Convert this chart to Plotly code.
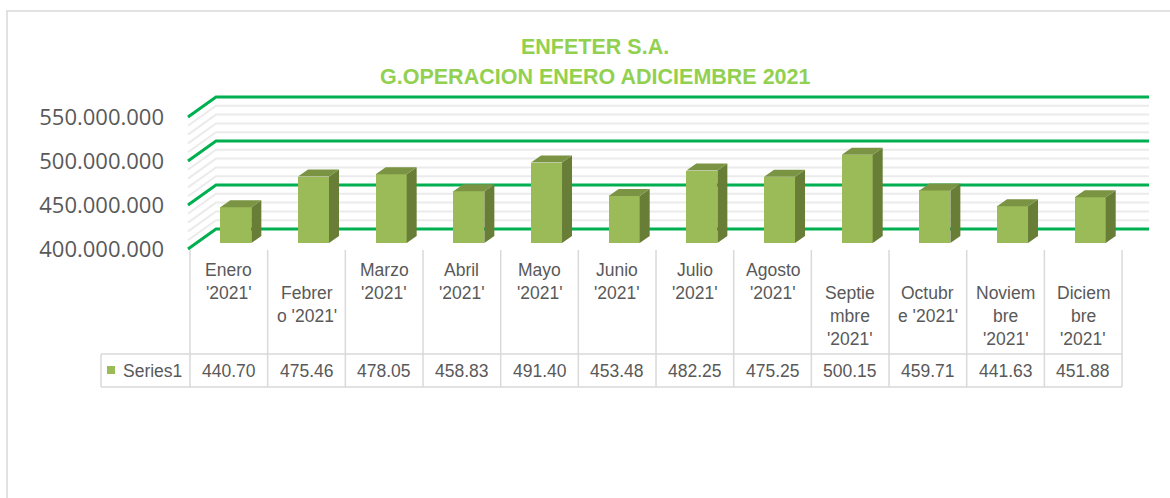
import plotly.graph_objects as go

# ---------------- data ----------------
months = ["Enero '2021'", "Febrero '2021'", "Marzo '2021'", "Abril '2021'",
          "Mayo '2021'", "Junio '2021'", "Julio '2021'", "Agosto '2021'",
          "Septiembre '2021'", "Octubre '2021'", "Noviembre '2021'", "Diciembre '2021'"]
header_labels = ["Enero<br>'2021'", "Febrer<br>o '2021'", "Marzo<br>'2021'", "Abril<br>'2021'",
                 "Mayo<br>'2021'", "Junio<br>'2021'", "Julio<br>'2021'", "Agosto<br>'2021'",
                 "Septie<br>mbre<br>'2021'", "Octubr<br>e '2021'", "Noviem<br>bre<br>'2021'",
                 "Diciem<br>bre<br>'2021'"]
values_millions = [440.70, 475.46, 478.05, 458.83, 491.40, 453.48,
                   482.25, 475.25, 500.15, 459.71, 441.63, 451.88]
series_name = "Series1"
y_ticks = [400e6, 450e6, 500e6, 550e6]
y_minor_step = 10e6
title_lines = ["ENFETER S.A.", "G.OPERACION ENERO ADICIEMBRE 2021"]

# ---------------- layout constants (pixels) ----------------
W, H = 1170, 498
COL0, COLW = 190.0, 77.67          # data-table left edge, column width
PXY = 0.88e-6                      # px per value unit
Y400 = 249.0                       # front-plane pixel row of 400M
WALL_DXP, WALL_DYP = 28.0, 20.0    # wall depth in px
FRONT_LEFT_PX, BACK_RIGHT_PX = 188.0, 1149.0
BAR_OFF_PX, BAR_W_PX, BAR_LIFT_PX = 7.0, 31.0, 6.0
BAR_DXP, BAR_DYP = 10.0, 7.0

FRONT = "#9BBB59"
SIDE = "#687E37"
TOP = "#7A9444"
GREEN_GRID = "#00B050"
MINOR_GRID = "#EBEBEB"
TEXT = "#595959"
BORDER = "#D9D9D9"
TITLE_C = "#92D050"
SANS = "Liberation Sans, Arial"

def xd(px):  # pixel -> x data (category index)
    return (px - COL0) / COLW - 0.5

y_base = 400e6
def yd(py):  # pixel -> y data
    return y_base + (Y400 - py) / PXY

def px2paper(px):
    return px / W

def py2paper(py):
    return 1 - py / H

x_range = [xd(0), xd(W)]
y_range = [yd(H), yd(0)]

wall_dx = WALL_DXP / COLW
wall_dy = WALL_DYP / PXY
xfl = xd(FRONT_LEFT_PX)
xbl = xfl + wall_dx
xbr = xd(BACK_RIGHT_PX)

fig = go.Figure()
shapes = []

# ---------------- walls / gridlines (below traces) ----------------
minor_levels = []
v = y_ticks[0]
while v < y_ticks[-1] - 1:
    if all(abs(v - t) > 1 for t in y_ticks):
        minor_levels.append(v)
    v += y_minor_step

def grid_shape(level, color, width):
    return dict(type="path", xref="x", yref="y", layer="below",
                path=f"M {xfl},{level} L {xbl},{level + wall_dy} L {xbr},{level + wall_dy}",
                line=dict(color=color, width=width))

for lv in minor_levels:
    shapes.append(grid_shape(lv, MINOR_GRID, 2))
for lv in y_ticks:
    shapes.append(grid_shape(lv, GREEN_GRID, 3))

# ---------------- 3D bars ----------------
n = len(values_millions)
bar_off = BAR_OFF_PX / COLW
bar_w = BAR_W_PX / COLW
lift = BAR_LIFT_PX / PXY
bdx = BAR_DXP / COLW
bdy = BAR_DYP / PXY
vals = [v * 1e6 for v in values_millions]
xc = [i + bar_off for i in range(n)]
base = y_base + lift

sx, sy, tx, ty = [], [], [], []
for c, v in zip(xc, vals):
    xl, xr = c - bar_w / 2, c + bar_w / 2
    top = v + lift
    sx += [xr, xr + bdx, xr + bdx, xr, xr, None]
    sy += [base, base + bdy, top + bdy, top, base, None]
    tx += [xl, xl + bdx, xr + bdx, xr, xl, None]
    ty += [top, top + bdy, top + bdy, top, top, None]

fig.add_trace(go.Bar(x=xc, y=[v - y_base for v in vals], base=base, width=bar_w,
                     marker=dict(color=FRONT, line=dict(width=0)), name=series_name,
                     customdata=months, hovertemplate="%{customdata}<extra></extra>",
                     showlegend=False))
fig.add_trace(go.Scatter(x=sx, y=sy, mode="lines", fill="toself", fillcolor=SIDE,
                         line=dict(width=0, color=SIDE), hoverinfo="skip", showlegend=False))
fig.add_trace(go.Scatter(x=tx, y=ty, mode="lines", fill="toself", fillcolor=TOP,
                         line=dict(width=0, color=TOP), hoverinfo="skip", showlegend=False))

# ---------------- data table ----------------
HDR_TOP, ROW_TOP, ROW_BOT = 250, 354, 387
LEG_LEFT = 101
lw = 1.5
for k in range(n + 1):
    xp = COL0 + COLW * k
    shapes.append(dict(type="line", xref="paper", yref="paper",
                       x0=px2paper(xp), x1=px2paper(xp), y0=py2paper(HDR_TOP), y1=py2paper(ROW_BOT),
                       line=dict(color=BORDER, width=lw)))
for yy in (ROW_TOP, ROW_BOT):
    shapes.append(dict(type="line", xref="paper", yref="paper",
                       x0=px2paper(LEG_LEFT), x1=px2paper(COL0 + COLW * n),
                       y0=py2paper(yy), y1=py2paper(yy), line=dict(color=BORDER, width=lw)))
shapes.append(dict(type="line", xref="paper", yref="paper",
                   x0=px2paper(LEG_LEFT), x1=px2paper(LEG_LEFT),
                   y0=py2paper(ROW_TOP), y1=py2paper(ROW_BOT), line=dict(color=BORDER, width=lw)))
# legend key
shapes.append(dict(type="rect", xref="paper", yref="paper",
                   x0=px2paper(107), x1=px2paper(115), y0=py2paper(366), y1=py2paper(374),
                   fillcolor=FRONT, line=dict(width=0)))
# chart border
shapes.append(dict(type="rect", xref="paper", yref="paper",
                   x0=px2paper(7), x1=px2paper(W + 10), y0=py2paper(11), y1=py2paper(H + 10),
                   line=dict(color=BORDER, width=1.5), layer="below"))

annotations = []
tfont = dict(family=SANS, size=17.5, color=TEXT)
header_row_offset = [0, 1, 0, 0, 0, 0, 0, 0, 1, 1, 1, 1]
for i, (lab, off) in enumerate(zip(header_labels, header_row_offset)):
    for k, line in enumerate(lab.split("<br>")):
        annotations.append(dict(xref="paper", yref="paper", x=px2paper(COL0 + COLW * (i + 0.5)),
                                y=py2paper(270 + 23 * (off + k)), text=line, showarrow=False,
                                xanchor="center", yanchor="middle", font=tfont))
    annotations.append(dict(xref="paper", yref="paper", x=px2paper(COL0 + COLW * (i + 0.5)),
                            y=py2paper(370.5), text=f"{values_millions[i]:.2f}", showarrow=False,
                            xanchor="center", yanchor="middle", font=tfont))
annotations.append(dict(xref="paper", yref="paper", x=px2paper(121), y=py2paper(370.5),
                        text=series_name, showarrow=False, xanchor="left", yanchor="middle",
                        font=tfont))
# title
for k, t in enumerate(title_lines):
    annotations.append(dict(xref="paper", yref="paper", x=px2paper(595), y=py2paper(47 + 30 * k),
                            text=f"<b>{t}</b>", showarrow=False, xanchor="center", yanchor="middle",
                            font=dict(family=SANS, size=21.5, color=TITLE_C)))

fig.update_layout(
    width=W, height=H, margin=dict(l=0, r=0, t=0, b=0),
    paper_bgcolor="white", plot_bgcolor="rgba(0,0,0,0)",
    separators=",.", showlegend=False, bargap=0,
    xaxis=dict(range=x_range, visible=False, fixedrange=True),
    yaxis=dict(range=y_range, anchor="free", position=px2paper(FRONT_LEFT_PX),
               tickvals=y_ticks, tickformat=",.0f", showgrid=False, zeroline=False,
               showline=False, ticks="", ticklabelstandoff=24,
               tickfont=dict(family="Open Sans", size=22, color=TEXT), fixedrange=True),
    shapes=shapes, annotations=annotations,
)

fig.write_html("out.html")
